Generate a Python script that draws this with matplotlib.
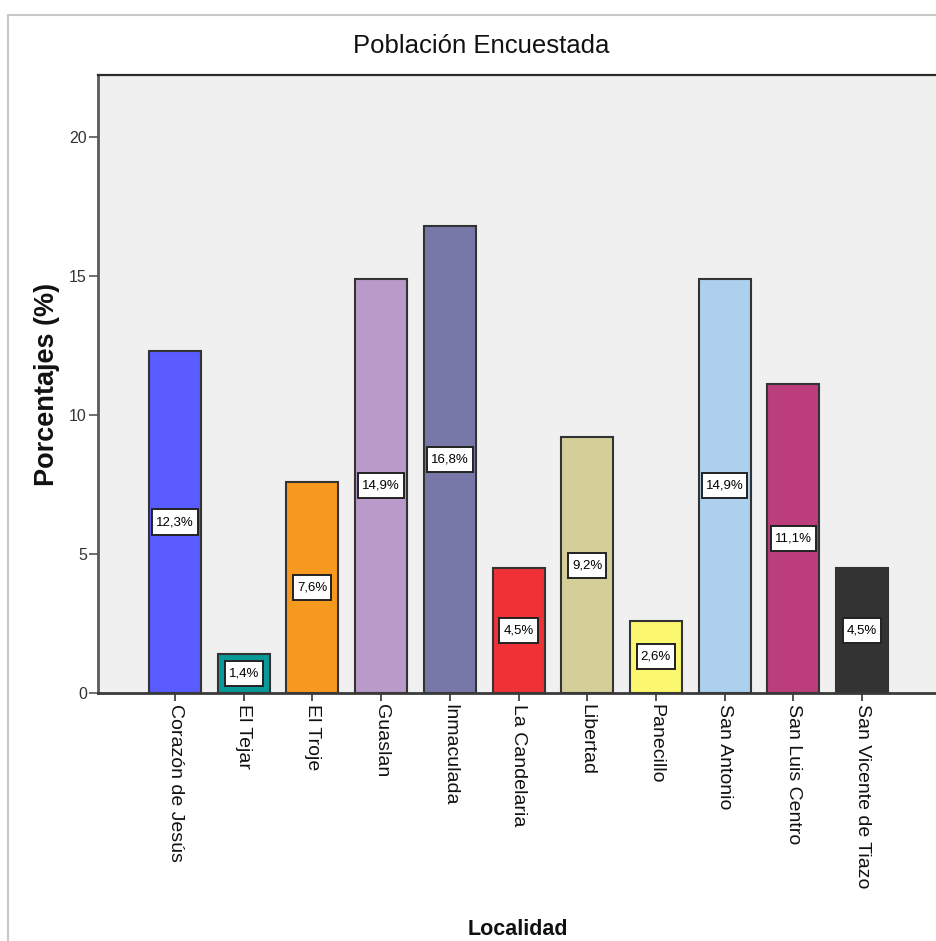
import matplotlib
matplotlib.use("Agg")
import matplotlib.pyplot as plt
from matplotlib.patches import Rectangle
from matplotlib.path import Path
from matplotlib import font_manager

# Data
localidades = ["Corazón de Jesús", "El Tejar", "El Troje", "Guaslan", "Inmaculada",
               "La Candelaria", "Libertad", "Panecillo", "San Antonio",
               "San Luis Centro", "San Vicente de Tiazo"]
porcentajes = [12.3, 1.4, 7.6, 14.9, 16.8, 4.5, 9.2, 2.6, 14.9, 11.1, 4.5]
colores = ["#5a5cff", "#079a96", "#f7991f", "#b99ac9", "#7878a8", "#f03236",
           "#d4cf99", "#fbf76e", "#acd0ee", "#bb3d7b", "#333333"]
yticks = [0, 5, 10, 15, 20]

names = {f.name for f in font_manager.fontManager.ttflist}
REG = "Liberation Sans" if "Liberation Sans" in names else "DejaVu Sans"


def label_box(x0, y0, width, height, mutation_size):
    """Rectangle around the value text with separate horizontal/vertical padding."""
    px, py = 0.30 * mutation_size, 0.50 * mutation_size
    x0, y0 = x0 - px, y0 - py
    x1, y1 = x0 + width + 2 * px, y0 + height + 2 * py
    return Path([(x0, y0), (x1, y0), (x1, y1), (x0, y1), (x0, y0)],
                [Path.MOVETO, Path.LINETO, Path.LINETO, Path.LINETO, Path.CLOSEPOLY])


W, H = 937, 941
fig = plt.figure(figsize=(W / 100, H / 100), dpi=100)

# light outer frame
fig.add_artist(Rectangle((8 / W, -0.1), 2.0, 1 - 15 / H + 0.1, transform=fig.transFigure,
                         fill=False, edgecolor="#c8c8c8", linewidth=1.5, clip_on=False))

ax = fig.add_axes([98 / W, 1 - 693 / H, (W - 98) / W, (693 - 75) / H])
ax.set_facecolor("#f0f0f0")

x = list(range(len(localidades)))
ax.bar(x, porcentajes, width=0.757, color=colores, edgecolor="#333333",
       linewidth=1.5, zorder=2)

for xi, v in zip(x, porcentajes):
    ax.text(xi, v / 2, f"{v:.1f}".replace(".", ",") + "%", ha="center", va="center",
            fontsize=9.5, family=REG, color="black", zorder=3,
            bbox=dict(boxstyle=label_box, facecolor="white",
                      edgecolor="#222222", linewidth=1.4))

ax.set_xlim(-1.121, -1.121 + (W - 98) / 68.7)
ax.set_ylim(0, (693 - 75) / 27.8)

ax.set_yticks(yticks)
ax.set_yticklabels([str(t) for t in yticks], family=REG, fontsize=11.5, color="#333333")
ax.tick_params(axis="y", direction="out", length=6.5, width=1.2, color="#555555", pad=1.5)

ax.set_xticks(x)
ax.set_xticklabels(localidades, rotation=270, family=REG, fontsize=14, color="#111111",
                   ha="center", va="top")
ax.tick_params(axis="x", direction="out", length=6, width=1.2, color="#333333", pad=2)

ax.spines["left"].set_color("#5a5a5a")
ax.spines["left"].set_linewidth(2.0)
ax.spines["bottom"].set_color("#3a3a3a")
ax.spines["bottom"].set_linewidth(2.0)
ax.spines["top"].set_color("#2a2a2a")
ax.spines["top"].set_linewidth(1.6)
ax.spines["right"].set_visible(False)

fig.text(481.5 / W, 1 - 53 / H, "Población Encuestada", ha="center", va="baseline",
         family=REG, fontsize=18.5, color="#111111")
fig.text(517.5 / W, 1 - 935 / H, "Localidad", ha="center", va="baseline",
         family=REG, fontsize=15.5, fontweight="bold", color="#111111")
fig.text(47 / W, 1 - 384 / H, "Porcentajes (%)", ha="center", va="center", rotation=90,
         family=REG, fontsize=19.5, fontweight="bold", color="#111111")

fig.savefig("out.png", dpi=100)
